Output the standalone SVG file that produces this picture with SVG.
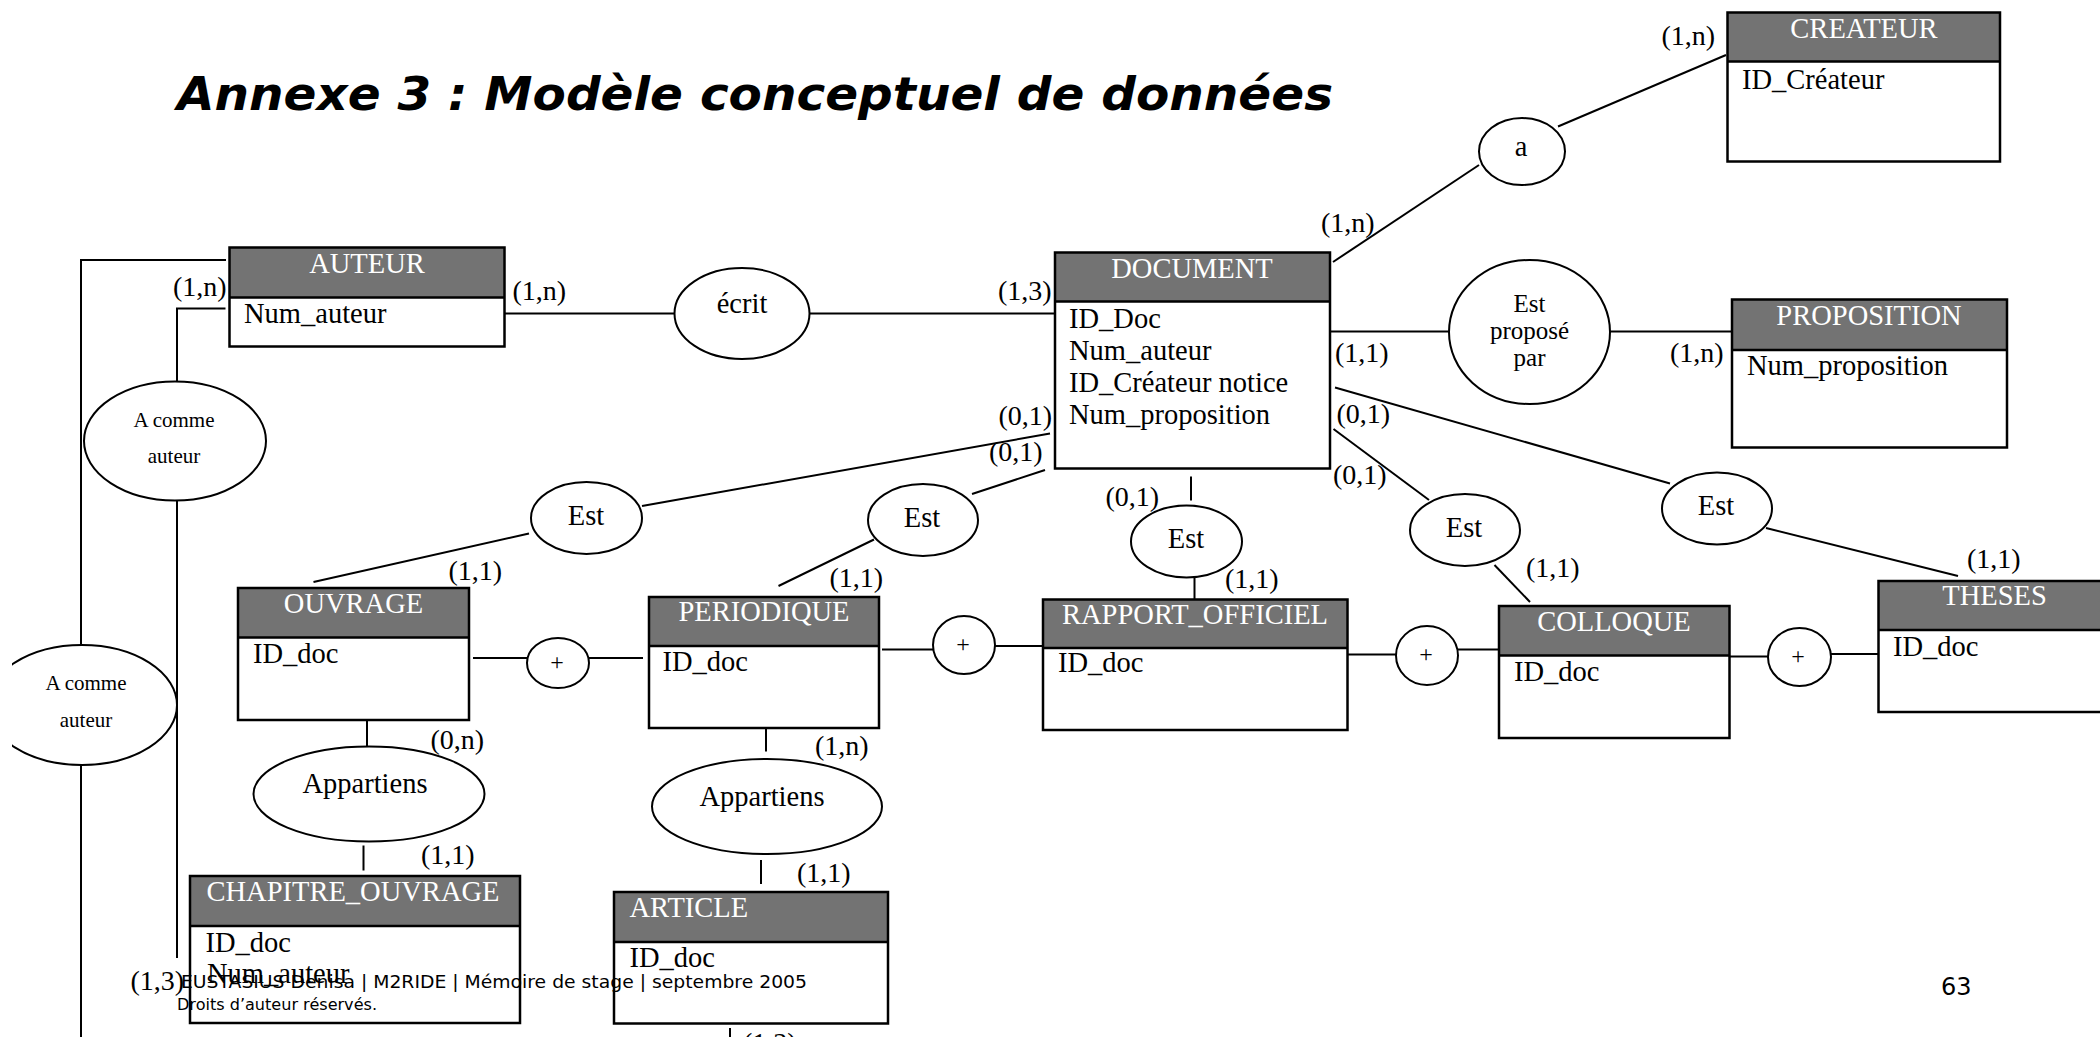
<svg xmlns="http://www.w3.org/2000/svg" width="2100" height="1037" viewBox="0 0 2100 1037">
<style>
.bg{fill:#fff}
.hd{fill:#737373}
.ol{fill:none;stroke:#000;stroke-width:2.5}
.hl{stroke:#000;stroke-width:2.5}
.ht{font-family:"Liberation Serif","Times New Roman",serif;font-size:28.5px;fill:#fff;text-anchor:middle}
.at{font-family:"Liberation Serif","Times New Roman",serif;font-size:28.5px;fill:#000}
.rel{fill:#fff;stroke:#000;stroke-width:2}
.rt{font-family:"Liberation Serif","Times New Roman",serif;font-size:28.5px;fill:#000;text-anchor:middle}
.rs{font-family:"Liberation Serif","Times New Roman",serif;font-size:21px;fill:#000;text-anchor:middle}
.rp{font-family:"Liberation Serif","Times New Roman",serif;font-size:25px;fill:#000;text-anchor:middle}
.pt{font-family:"Liberation Serif","Times New Roman",serif;font-size:24px;fill:#000;text-anchor:middle}
.cn{fill:none;stroke:#000;stroke-width:2}
.card{font-family:"Liberation Serif","Times New Roman",serif;font-size:28px;fill:#000}
.ft{font-family:"DejaVu Sans","Verdana",sans-serif;fill:#000}
</style>
<defs>
<clipPath id="clipL"><rect x="12" y="0" width="2088" height="1037"/></clipPath>
</defs>
<rect x="0" y="0" width="2100" height="1037" fill="#fff"/>

<text x="177" y="110" font-family="DejaVu Sans, Verdana, sans-serif" font-size="46" font-weight="bold" font-style="italic" textLength="1156" lengthAdjust="spacingAndGlyphs">Annexe 3 : Modèle conceptuel de données</text>

<g id="connectors">
<polyline class="cn" points="226,260 81,260 81,645"/>
<polyline class="cn" points="225.5,308.5 177,308.5 177,381.5"/>
<line class="cn" x1="177" y1="500.5" x2="177" y2="958"/>
<line class="cn" x1="81" y1="765" x2="81" y2="1037"/>
<line class="cn" x1="504" y1="313.5" x2="674.5" y2="313.5"/>
<line class="cn" x1="809.5" y1="313.5" x2="1055" y2="313.5"/>
<line class="cn" x1="1333" y1="262" x2="1479" y2="165"/>
<line class="cn" x1="1558" y1="126.5" x2="1726" y2="55"/>
<line class="cn" x1="1330" y1="331.5" x2="1449" y2="331.5"/>
<line class="cn" x1="1610" y1="331.5" x2="1732" y2="331.5"/>
<line class="cn" x1="1335" y1="387.5" x2="1670" y2="483.5"/>
<line class="cn" x1="1766" y1="528" x2="1958" y2="576"/>
<line class="cn" x1="1333.5" y1="429" x2="1429" y2="500"/>
<line class="cn" x1="1494.5" y1="565" x2="1530" y2="602"/>
<line class="cn" x1="642" y1="506" x2="1050" y2="433.5"/>
<line class="cn" x1="313.5" y1="582" x2="529" y2="533.5"/>
<line class="cn" x1="1045" y1="470" x2="972" y2="494"/>
<line class="cn" x1="874" y1="539.5" x2="778.5" y2="586"/>
<line class="cn" x1="1191" y1="476.5" x2="1191" y2="500.5"/>
<line class="cn" x1="1194.5" y1="577.5" x2="1194.5" y2="603"/>
<line class="cn" x1="473" y1="658" x2="527" y2="658"/>
<line class="cn" x1="589" y1="658" x2="643" y2="658"/>
<line class="cn" x1="882" y1="649.5" x2="933" y2="649.5"/>
<line class="cn" x1="995" y1="646" x2="1043" y2="646"/>
<line class="cn" x1="1347.5" y1="654.5" x2="1396" y2="654.5"/>
<line class="cn" x1="1458" y1="649.5" x2="1499" y2="649.5"/>
<line class="cn" x1="1720.5" y1="656.5" x2="1768" y2="656.5"/>
<line class="cn" x1="1831" y1="654" x2="1881" y2="654"/>
<line class="cn" x1="367" y1="720.5" x2="367" y2="746.5"/>
<line class="cn" x1="363.5" y1="845.5" x2="363.5" y2="870.5"/>
<line class="cn" x1="766" y1="729" x2="766" y2="751.5"/>
<line class="cn" x1="761" y1="860" x2="761" y2="884"/>
<line class="cn" x1="730" y1="1028" x2="730" y2="1037"/>
</g>

<g id="cardinalities">
<text class="card" x="173" y="296">(1,n)</text>
<text class="card" x="512.5" y="300">(1,n)</text>
<text class="card" x="998" y="300">(1,3)</text>
<text class="card" x="1321" y="232">(1,n)</text>
<text class="card" x="1661.5" y="45">(1,n)</text>
<text class="card" x="1335" y="361.5">(1,1)</text>
<text class="card" x="1670" y="361.5">(1,n)</text>
<text class="card" x="1336.5" y="423">(0,1)</text>
<text class="card" x="998.5" y="425">(0,1)</text>
<text class="card" x="989" y="461">(0,1)</text>
<text class="card" x="1333" y="484">(0,1)</text>
<text class="card" x="1105.5" y="505.5">(0,1)</text>
<text class="card" x="1225" y="588">(1,1)</text>
<text class="card" x="448.5" y="580">(1,1)</text>
<text class="card" x="829.5" y="586.5">(1,1)</text>
<text class="card" x="1526" y="576.5">(1,1)</text>
<text class="card" x="1967" y="568">(1,1)</text>
<text class="card" x="430.5" y="749">(0,n)</text>
<text class="card" x="421" y="864">(1,1)</text>
<text class="card" x="815" y="755">(1,n)</text>
<text class="card" x="797" y="882">(1,1)</text>
<text class="card" x="130.5" y="990">(1,3)</text>
<text class="card" x="743" y="1052">(1,3)</text>
</g>

<g id="rel-ecrit"><ellipse class="rel" cx="742" cy="313.5" rx="67.5" ry="45.5"/><text class="rt" x="742" y="313">écrit</text></g>
<g id="rel-a"><ellipse class="rel" cx="1522" cy="151.5" rx="43" ry="33.5"/><text class="rt" x="1521" y="156">a</text></g>
<g id="rel-propose"><ellipse class="rel" cx="1529.5" cy="332" rx="80.5" ry="72"/><text class="rp" x="1529.5" y="311.5">Est</text><text class="rp" x="1529.5" y="339">proposé</text><text class="rp" x="1529.5" y="366">par</text></g>
<g id="rel-est-theses"><ellipse class="rel" cx="1717" cy="508.5" rx="55" ry="36"/><text class="rt" x="1716" y="515">Est</text></g>
<g id="rel-est-colloque"><ellipse class="rel" cx="1465" cy="530" rx="55" ry="36"/><text class="rt" x="1464" y="536.5">Est</text></g>
<g id="rel-est-ouvrage"><ellipse class="rel" cx="586.5" cy="518" rx="55.5" ry="36"/><text class="rt" x="586" y="525">Est</text></g>
<g id="rel-est-periodique"><ellipse class="rel" cx="923" cy="520" rx="55" ry="36"/><text class="rt" x="922" y="526.5">Est</text></g>
<g id="rel-est-rapport"><ellipse class="rel" cx="1186.5" cy="541.5" rx="55.5" ry="36"/><text class="rt" x="1186" y="548">Est</text></g>
<g id="rel-acomme1"><ellipse class="rel" cx="175" cy="441" rx="91" ry="59.5"/><text class="rs" x="174" y="426.5">A comme</text><text class="rs" x="174" y="463">auteur</text></g>
<g id="rel-acomme2" clip-path="url(#clipL)"><ellipse class="rel" cx="82" cy="705" rx="95" ry="60"/><text class="rs" x="86" y="690">A comme</text><text class="rs" x="86" y="727">auteur</text></g>
<g id="rel-appartiens1"><ellipse class="rel" cx="369" cy="794" rx="115.5" ry="47.5"/><text class="rt" x="365" y="793">Appartiens</text></g>
<g id="rel-appartiens2"><ellipse class="rel" cx="767" cy="806.5" rx="115" ry="47.5"/><text class="rt" x="762" y="806">Appartiens</text></g>
<g id="plus1"><ellipse class="rel" cx="558" cy="663" rx="31" ry="25"/><text class="pt" x="557" y="670">+</text></g>
<g id="plus2"><ellipse class="rel" cx="964" cy="645" rx="31" ry="29"/><text class="pt" x="963" y="652">+</text></g>
<g id="plus3"><ellipse class="rel" cx="1427" cy="655.5" rx="31" ry="29.5"/><text class="pt" x="1426" y="662">+</text></g>
<g id="plus4"><ellipse class="rel" cx="1799.5" cy="657" rx="31.5" ry="29"/><text class="pt" x="1798" y="664">+</text></g>

<g id="ent-auteur">
<rect class="bg" x="229.5" y="247.5" width="275" height="99"/>
<rect class="hd" x="229.5" y="247.5" width="275" height="50"/>
<line class="hl" x1="229.5" y1="297.5" x2="504.5" y2="297.5"/>
<rect class="ol" x="229.5" y="247.5" width="275" height="99"/>
<text class="ht" x="367" y="272.5">AUTEUR</text>
<text class="at" x="244" y="323">Num_auteur</text>
</g>
<g id="ent-document">
<rect class="bg" x="1055" y="252.5" width="275" height="216"/>
<rect class="hd" x="1055" y="252.5" width="275" height="49"/>
<line class="hl" x1="1055" y1="301.5" x2="1330" y2="301.5"/>
<rect class="ol" x="1055" y="252.5" width="275" height="216"/>
<text class="ht" x="1192" y="277.5">DOCUMENT</text>
<text class="at" x="1069" y="328">ID_Doc</text>
<text class="at" x="1069" y="360">Num_auteur</text>
<text class="at" x="1069" y="392">ID_Créateur notice</text>
<text class="at" x="1069" y="423.5">Num_proposition</text>
</g>
<g id="ent-createur">
<rect class="bg" x="1727.5" y="12.5" width="272.5" height="149"/>
<rect class="hd" x="1727.5" y="12.5" width="272.5" height="49"/>
<line class="hl" x1="1727.5" y1="61.5" x2="2000" y2="61.5"/>
<rect class="ol" x="1727.5" y="12.5" width="272.5" height="149"/>
<text class="ht" x="1864" y="37.5">CREATEUR</text>
<text class="at" x="1742" y="89">ID_Créateur</text>
</g>
<g id="ent-proposition">
<rect class="bg" x="1732" y="299.5" width="275" height="148"/>
<rect class="hd" x="1732" y="299.5" width="275" height="50.5"/>
<line class="hl" x1="1732" y1="350" x2="2007" y2="350"/>
<rect class="ol" x="1732" y="299.5" width="275" height="148"/>
<text class="ht" x="1869" y="325">PROPOSITION</text>
<text class="at" x="1747" y="375">Num_proposition</text>
</g>
<g id="ent-ouvrage">
<rect class="bg" x="238" y="588" width="231" height="132"/>
<rect class="hd" x="238" y="588" width="231" height="49.5"/>
<line class="hl" x1="238" y1="637.5" x2="469" y2="637.5"/>
<rect class="ol" x="238" y="588" width="231" height="132"/>
<text class="ht" x="353.5" y="613">OUVRAGE</text>
<text class="at" x="253" y="663">ID_doc</text>
</g>
<g id="ent-periodique">
<rect class="bg" x="649" y="597" width="230" height="131"/>
<rect class="hd" x="649" y="597" width="230" height="49"/>
<line class="hl" x1="649" y1="646" x2="879" y2="646"/>
<rect class="ol" x="649" y="597" width="230" height="131"/>
<text class="ht" x="764" y="621">PERIODIQUE</text>
<text class="at" x="662.5" y="671">ID_doc</text>
</g>
<g id="ent-rapport">
<rect class="bg" x="1043" y="599.5" width="304.5" height="130.5"/>
<rect class="hd" x="1043" y="599.5" width="304.5" height="48.5"/>
<line class="hl" x1="1043" y1="648" x2="1347.5" y2="648"/>
<rect class="ol" x="1043" y="599.5" width="304.5" height="130.5"/>
<text class="ht" x="1195" y="623.5">RAPPORT_OFFICIEL</text>
<text class="at" x="1058" y="672">ID_doc</text>
</g>
<g id="ent-colloque">
<rect class="bg" x="1499" y="606" width="230.5" height="132"/>
<rect class="hd" x="1499" y="606" width="230.5" height="49.5"/>
<line class="hl" x1="1499" y1="655.5" x2="1729.5" y2="655.5"/>
<rect class="ol" x="1499" y="606" width="230.5" height="132"/>
<text class="ht" x="1614" y="631">COLLOQUE</text>
<text class="at" x="1514" y="681">ID_doc</text>
</g>
<g id="ent-theses">
<rect class="bg" x="1878.5" y="581" width="232" height="131"/>
<rect class="hd" x="1878.5" y="581" width="232" height="49"/>
<line class="hl" x1="1878.5" y1="630" x2="2110.5" y2="630"/>
<rect class="ol" x="1878.5" y="581" width="232" height="131"/>
<text class="ht" x="1994.5" y="605">THESES</text>
<text class="at" x="1893" y="656">ID_doc</text>
</g>
<g id="ent-chapitre">
<rect class="bg" x="190" y="876" width="330" height="147"/>
<rect class="hd" x="190" y="876" width="330" height="50"/>
<line class="hl" x1="190" y1="926" x2="520" y2="926"/>
<rect class="ol" x="190" y="876" width="330" height="147"/>
<text class="ht" x="353" y="901">CHAPITRE_OUVRAGE</text>
<text class="at" x="205.5" y="951.5">ID_doc</text>
<text class="at" x="207" y="983">Num_auteur</text>
</g>
<g id="ent-article">
<rect class="bg" x="614" y="892" width="274" height="131.5"/>
<rect class="hd" x="614" y="892" width="274" height="50"/>
<line class="hl" x1="614" y1="942" x2="888" y2="942"/>
<rect class="ol" x="614" y="892" width="274" height="131.5"/>
<text class="ht" x="629.5" y="917" style="text-anchor:start">ARTICLE</text>
<text class="at" x="629.5" y="967">ID_doc</text>
</g>

<g id="footer">
<text class="ft" x="181" y="988" font-size="18" textLength="626" lengthAdjust="spacingAndGlyphs">EUSTASIUS Denisa | M2RIDE | Mémoire de stage | septembre 2005</text>
<text class="ft" x="177" y="1010" font-size="15" textLength="200" lengthAdjust="spacingAndGlyphs">Droits d’auteur réservés.</text>
<text class="ft" x="1941" y="995" font-size="24">63</text>
</g>
</svg>
